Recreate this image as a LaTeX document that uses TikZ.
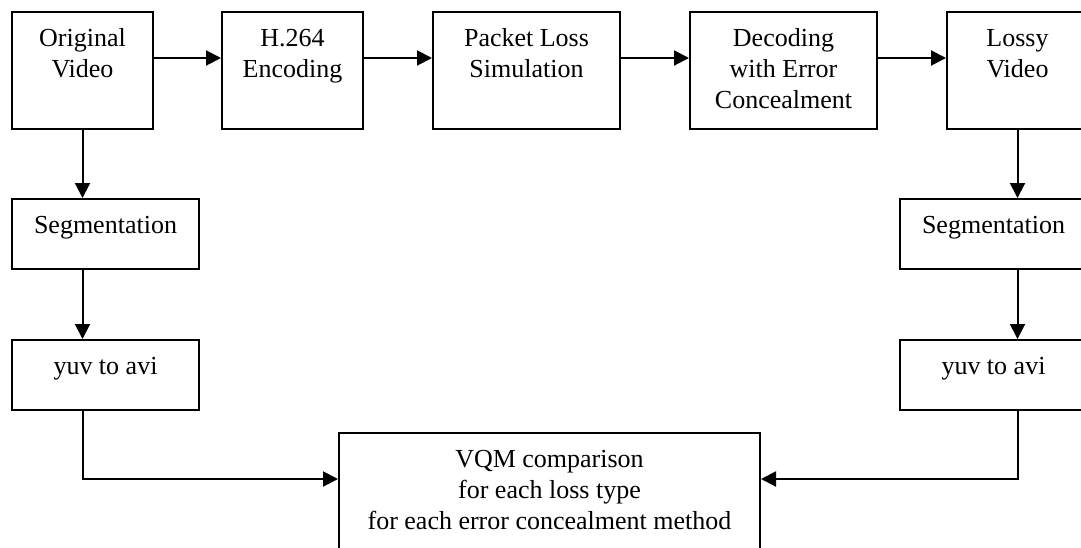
\documentclass[tikz,border=0pt]{standalone}
\usepackage{fontspec}
\setmainfont{Liberation Serif}
\usepackage{tikz}
\usetikzlibrary{arrows.meta}

% box text: width, height, lines (set at the top of the box)
\newcommand{\blocktext}[3]{\parbox[c][#2][t]{#1}{\centering\rule{0pt}{17pt}#3}}

\begin{document}
\begin{tikzpicture}[x=0.5pt,y=-0.5pt,
    blk/.style={draw,line width=1pt,inner sep=0pt,anchor=north west,
      font=\fontsize{13}{15.5}\selectfont},
    flow/.style={line width=1pt,-{Triangle[length=7.5pt,width=7.5pt]}}]
  \clip (0,0) rectangle (1081,547);
  % top row
  \node[blk] (orig)  at (11,11)  {\blocktext{70.5pt}{58.5pt}{Original\\Video}};
  \node[blk] (enc)   at (221,11) {\blocktext{70.5pt}{58.5pt}{H.264\\Encoding}};
  \node[blk] (loss)  at (432,11) {\blocktext{93.5pt}{58.5pt}{Packet Loss\\Simulation}};
  \node[blk] (dec)   at (689,11) {\blocktext{93.5pt}{58.5pt}{Decoding\\with Error\\Concealment}};
  \node[blk] (lossy) at (946,11) {\blocktext{70.5pt}{58.5pt}{Lossy\\Video}};
  % side columns
  \node[blk] (segL) at (11,198)  {\blocktext{93.5pt}{35pt}{Segmentation}};
  \node[blk] (yuvL) at (11,339)  {\blocktext{93.5pt}{35pt}{yuv to avi}};
  \node[blk] (segR) at (899,198) {\blocktext{93.5pt}{35pt}{Segmentation}};
  \node[blk] (yuvR) at (899,339) {\blocktext{93.5pt}{35pt}{yuv to avi}};
  % comparison
  \node[blk] (vqm) at (338,432) {\blocktext{210.5pt}{70pt}{VQM comparison\\for each loss type\\for each error concealment method}};

  \foreach \a/\b in {orig/enc,enc/loss,loss/dec,dec/lossy}
    \draw[flow] ([yshift=-23.5pt]\a.north east) -- ([yshift=-23.5pt]\b.north west);

  \draw[flow] (orig.south) -- (orig.south |- segL.north);
  \draw[flow] (orig.south |- segL.south) -- (orig.south |- yuvL.north);
  \draw[flow] (orig.south |- yuvL.south) |- ([yshift=-23.5pt]vqm.north west);

  \draw[flow] (lossy.south) -- (lossy.south |- segR.north);
  \draw[flow] (lossy.south |- segR.south) -- (lossy.south |- yuvR.north);
  \draw[flow] (lossy.south |- yuvR.south) |- ([yshift=-23.5pt]vqm.north east);
\end{tikzpicture}
\end{document}
